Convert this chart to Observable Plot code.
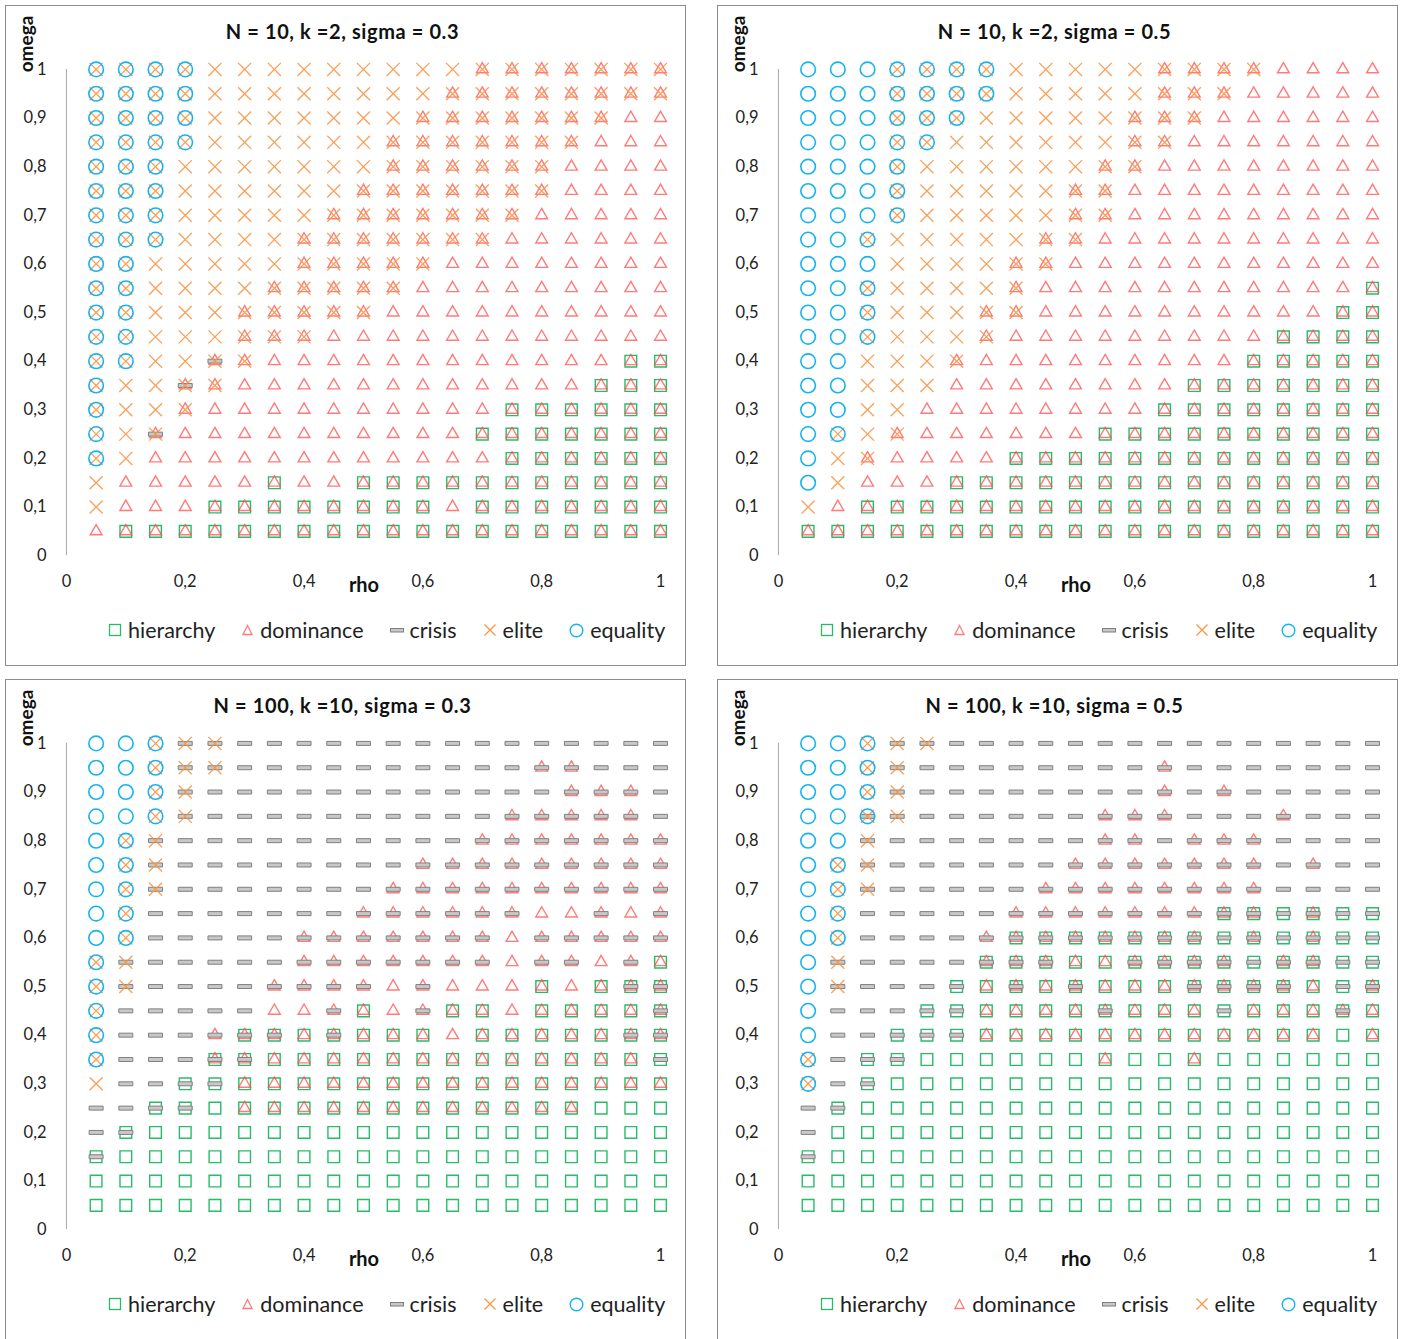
<!DOCTYPE html>
<html>
<head>
<meta charset="utf-8">
<script src="https://cdn.jsdelivr.net/npm/d3@7"></script>
<script src="https://cdn.jsdelivr.net/npm/@observablehq/plot@0.6"></script>
<style>
  body { margin: 0; background: #fff; font-family: Lato, "Open Sans", sans-serif; }
  #root { position: relative; width: 1408px; height: 1339px; overflow: hidden; background: #fff; }
  .panel { position: absolute; width: 681px; height: 661px; border: 1px solid #8c8c8c; box-sizing: border-box; background: #fff; }
  .title { position: absolute; left: -3px; width: 100%; top: 13px; text-align: center; font-weight: bold; font-size: 20px; letter-spacing: 0.6px; color: #111; }
  .ylab { position: absolute; left: 19px; top: 38px; transform: translate(-50%, -50%) rotate(-90deg); font-weight: bold; font-size: 19px; color: #111; }
  .xlab { position: absolute; left: 358px; top: 578px; transform: translate(-50%, -50%); font-weight: bold; font-size: 20px; color: #111; }
  .panel svg.plot { position: absolute; left: 0; top: 0; }
  .legend { position: absolute; left: 102px; top: 611px; display: flex; align-items: center; font-size: 21.5px; color: #222; white-space: nowrap; }
  .legend .item { display: flex; align-items: center; margin-right: 26px; }
  .legend .item svg { margin-right: 6px; }
</style>
</head>
<body>
<div id="root"></div>
<script>
// ---- grid values ----
const rhoValues = [0.05, 0.1, 0.15, 0.2, 0.25, 0.3, 0.35, 0.4, 0.45, 0.5, 0.55, 0.6, 0.65, 0.7, 0.75, 0.8, 0.85, 0.9, 0.95, 1];
const omegaValues = [1, 0.95, 0.9, 0.85, 0.8, 0.75, 0.7, 0.65, 0.6, 0.55, 0.5, 0.45, 0.4, 0.35, 0.3, 0.25, 0.2, 0.15, 0.1, 0.05];
const xTicks = [0, 0.2, 0.4, 0.6, 0.8, 1];
const yTicks = [0, 0.1, 0.2, 0.3, 0.4, 0.5, 0.6, 0.7, 0.8, 0.9, 1];
const categories = ["hierarchy", "dominance", "crisis", "elite", "equality"];

// cell codes -> outcomes present in the cell
const codeKey = {
  q: ["equality"],
  Q: ["elite", "equality"],
  R: ["crisis", "elite", "equality"],
  e: ["elite"],
  K: ["crisis", "elite"],
  E: ["dominance", "elite"],
  Y: ["dominance", "crisis", "elite"],
  d: ["dominance"],
  D: ["hierarchy", "dominance"],
  C: ["dominance", "crisis"],
  H: ["hierarchy", "crisis"],
  B: ["hierarchy", "dominance", "crisis"],
  c: ["crisis"],
  h: ["hierarchy"]
};

// rows from omega = 1 (top) to omega = 0.05 (bottom); run-length: letter + count, columns rho 0.05 .. 1
const panel1Rows = [
  "Q4 e9 E7", "Q4 e8 E8", "Q4 e7 E7 d2", "Q4 e6 E7 d3", "Q3 e7 E6 d4",
  "Q3 e6 E7 d4", "Q3 e5 E7 d5", "Q3 e4 E7 d6", "Q2 e5 E5 d8", "Q2 e4 E5 d9",
  "Q2 e3 E5 d10", "Q2 e3 E3 d12", "Q2 e2 Y E d12 D2", "Q e2 Y E d12 D3", "Q e2 E d10 D6",
  "Q e Y d10 D7", "Q e d12 D6", "e d5 D d2 D11", "e d3 D8 d D7", "d D19"
];
const panel2Rows = [
  "q3 Q4 e5 E4 d4", "q3 Q4 e5 E3 d5", "q3 Q3 e5 E3 d6", "q3 Q2 e6 E2 d7", "q3 Q e6 E2 d8",
  "q3 Q e5 E2 d9", "q3 Q e5 E2 d9", "q2 Q e5 E2 d10", "q3 e4 E2 d11", "q2 Q e4 E d11 D",
  "q2 Q e3 E2 d10 D2", "q2 Q e3 E d9 D4", "q2 e3 E d9 D5", "q2 e3 d8 D7", "q2 e2 d8 D8",
  "q Q e E d6 D10", "q e E d4 D13", "q e d3 D15", "e d D18", "D20"
];
const panel3Rows = [
  "q2 Q K2 c15", "q2 Q K2 c10 C2 c3", "q2 Q K c12 C3 c", "q2 Q K c10 C5 c", "q Q K c10 C7",
  "q Q K c8 C9", "q Q K c7 C10", "q Q c7 C6 d2 C d C", "q Q c5 C7 d C5", "Q K c5 C7 d C2 d C D",
  "Q K c4 C4 d C d3 D d D B2", "Q c5 d2 C D d C D2 d D4 B", "Q c3 C B2 D B D3 d D5 B2", "Q c3 B2 D13 H", "e c2 H2 D15",
  "c2 H2 h D12 h3", "c H h18", "H h19", "h20", "h20"
];
const panel4Rows = [
  "q2 Q K2 c15", "q2 Q K c8 C c7", "q2 Q K c8 C c C c5", "q2 R K c6 C3 c3 C c3", "q2 K c7 C2 c C3 c4",
  "q Q K c6 C7 c C c2", "q Q K c5 C8 c4", "q Q c5 C7 B2 H B H2", "q Q c4 C B7 H B H B H2", "q K c4 B3 D2 B4 H B2 H2",
  "q K c3 H D B D B D3 B4 D H B", "q c3 H2 D4 B D3 H D3 B D", "q c2 H3 D12 h D", "Q c H2 h6 D h2 D h6", "Q c H h17",
  "c H h18", "c h19", "H h19", "h20", "h20"
];

const panelTitles = ["N = 10, k =2, sigma = 0.3", "N = 10, k =2, sigma = 0.5", "N = 100, k =10, sigma = 0.3", "N = 100, k =10, sigma = 0.5"];
const panelRows = [panel1Rows, panel2Rows, panel3Rows, panel4Rows];
const panelPos = [[5, 5], [717, 5], [5, 679], [717, 679]];

const colors = { hierarchy: "#00b050", dominance: "#ff4d4d", crisisFill: "#c8c8c8", crisisStroke: "#7f7f7f", elite: "#f79646", equality: "#16b4ee" };

function decodeRow(row) {
  const out = [];
  for (const tok of row.trim().split(/\s+/)) {
    const n = tok.length > 1 ? parseInt(tok.slice(1), 10) : 1;
    for (let k = 0; k < n; k++) out.push(tok[0]);
  }
  return out;
}

const fmt = d => String(d).replace(".", ",");
const barSymbol = { draw(ctx) { ctx.moveTo(-7, -2); ctx.lineTo(7, -2); ctx.lineTo(7, 2); ctx.lineTo(-7, 2); ctx.closePath(); } };

function legendHTML() {
  return `
  <div class="item"><svg width="14" height="14"><rect x="1.5" y="1.5" width="11" height="11" fill="none" stroke="${colors.hierarchy}" stroke-width="1.3" opacity="0.85"/></svg>hierarchy</div>
  <div class="item"><svg width="13" height="14"><path d="M6.5,2.5 L11,11.5 L2,11.5 Z" fill="none" stroke="${colors.dominance}" stroke-width="1.3" opacity="0.75"/></svg>dominance</div>
  <div class="item"><svg width="14" height="14"><rect x="0.5" y="5.5" width="13" height="3.5" fill="${colors.crisisFill}" stroke="${colors.crisisStroke}" stroke-width="1"/></svg>crisis</div>
  <div class="item"><svg width="14" height="14"><path d="M1.5,1.5 L12.5,12.5 M12.5,1.5 L1.5,12.5" stroke="${colors.elite}" stroke-width="1.3"/></svg>elite</div>
  <div class="item"><svg width="15" height="15"><circle cx="7.5" cy="7.5" r="6.3" fill="none" stroke="${colors.equality}" stroke-width="1.4"/></svg>equality</div>`;
}

const root = document.getElementById("root");

panelRows.forEach((rows, p) => {
  const data = [];
  rows.forEach((row, i) => {
    const cells = decodeRow(row);
    cells.forEach((code, j) => {
      for (const cat of codeKey[code]) data.push({ rho: rhoValues[j], omega: omegaValues[i], cat });
    });
  });
  const sel = c => data.filter(d => d.cat === c);

  const panel = document.createElement("div");
  panel.className = "panel";
  panel.style.left = panelPos[p][0] + "px";
  panel.style.top = panelPos[p][1] + "px";

  const chart = Plot.plot({
    width: 680,
    height: 600,
    marginLeft: 60,
    marginTop: 63,
    marginRight: 25,
    marginBottom: 50,
    x: { domain: [0, 1] },
    y: { domain: [0, 1] },
    style: { background: "transparent", fontFamily: "Lato, 'Open Sans', sans-serif", overflow: "visible" },
    marks: [
      Plot.ruleX([0], { y1: 0, y2: 1, stroke: "#a6a6a6", strokeWidth: 1 }),
      Plot.axisX({ ticks: xTicks, tickFormat: fmt, tickSize: 0, tickPadding: 20, label: null, fontSize: 16.5, color: "#222" }),
      Plot.axisY({ ticks: yTicks, tickFormat: fmt, tickSize: 0, tickPadding: 20, label: null, fontSize: 16.5, color: "#222" }),
      Plot.dot(sel("hierarchy"), { x: "rho", y: "omega", symbol: "square", r: 6.6, fill: "none", stroke: colors.hierarchy, strokeWidth: 1.4, strokeOpacity: 0.85 }),
      Plot.dot(sel("dominance"), { x: "rho", y: "omega", symbol: "triangle", r: 4.4, fill: "none", stroke: colors.dominance, strokeWidth: 1.4, strokeOpacity: 0.75 }),
      Plot.dot(sel("crisis"), { x: "rho", y: "omega", symbol: barSymbol, r: 1, fill: colors.crisisFill, stroke: colors.crisisStroke, strokeWidth: 1 }),
      Plot.dot(sel("elite"), { x: "rho", y: "omega", symbol: "times", r: 6, stroke: colors.elite, strokeWidth: 1.3, strokeOpacity: 0.9 }),
      Plot.dot(sel("equality"), { x: "rho", y: "omega", symbol: "circle", r: 7.3, fill: "none", stroke: colors.equality, strokeWidth: 1.6 })
    ]
  });
  chart.classList.add("plot");
  panel.appendChild(chart);

  const title = document.createElement("div");
  title.className = "title";
  title.textContent = panelTitles[p];
  panel.appendChild(title);

  const ylab = document.createElement("div");
  ylab.className = "ylab";
  ylab.textContent = "omega";
  panel.appendChild(ylab);

  const xlab = document.createElement("div");
  xlab.className = "xlab";
  xlab.textContent = "rho";
  panel.appendChild(xlab);

  const legend = document.createElement("div");
  legend.className = "legend";
  legend.innerHTML = legendHTML();
  panel.appendChild(legend);

  root.appendChild(panel);
});
</script>
</body>
</html>
